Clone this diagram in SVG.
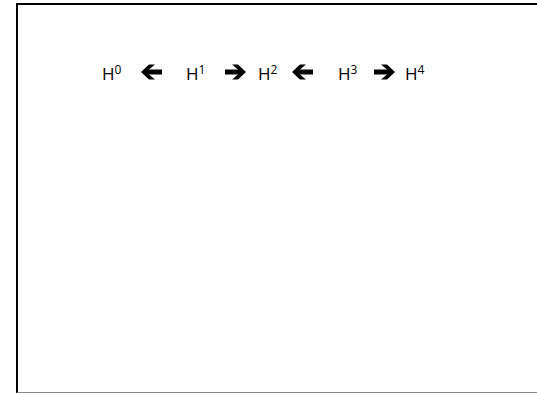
<svg xmlns="http://www.w3.org/2000/svg" width="537" height="393" viewBox="0 0 537 393">
<style>
.t{font-family:"Open Sans","Liberation Sans",sans-serif;font-size:17px;fill:#000}
.s{font-size:12px}
.a{fill:#000}
</style>
<defs>
<polygon id="la" points="0,0 8,-7.5 14,-7.5 8,-2.5 21,-2.5 21,2.5 8,2.5 14,7.5 8,7.5"/>
<polygon id="ra" points="0,0 -8,-7.5 -14,-7.5 -8,-2.5 -21,-2.5 -21,2.5 -8,2.5 -14,7.5 -8,7.5"/>
</defs>
<rect x="0" y="0" width="537" height="393" fill="#fff"/>
<g id="frame">
<path d="M17,393 V4 H537" fill="none" stroke="#000" stroke-width="2"/>
<line x1="17" y1="392.5" x2="537" y2="392.5" stroke="#888" stroke-width="1"/>
</g>
<g id="h0"><text class="t" x="102" y="80">H<tspan class="s" dy="-6">0</tspan></text></g>
<g id="h1"><text class="t" x="186" y="80">H<tspan class="s" dy="-6">1</tspan></text></g>
<g id="h2"><text class="t" x="258" y="80">H<tspan class="s" dy="-6">2</tspan></text></g>
<g id="h3"><text class="t" x="338" y="80">H<tspan class="s" dy="-6">3</tspan></text></g>
<g id="h4"><text class="t" x="405" y="80">H<tspan class="s" dy="-6">4</tspan></text></g>
<g id="connectors" class="a">
<use href="#la" x="141" y="72"/>
<use href="#ra" x="246" y="72"/>
<use href="#la" x="292" y="72"/>
<use href="#ra" x="395" y="72"/>
</g>
</svg>
